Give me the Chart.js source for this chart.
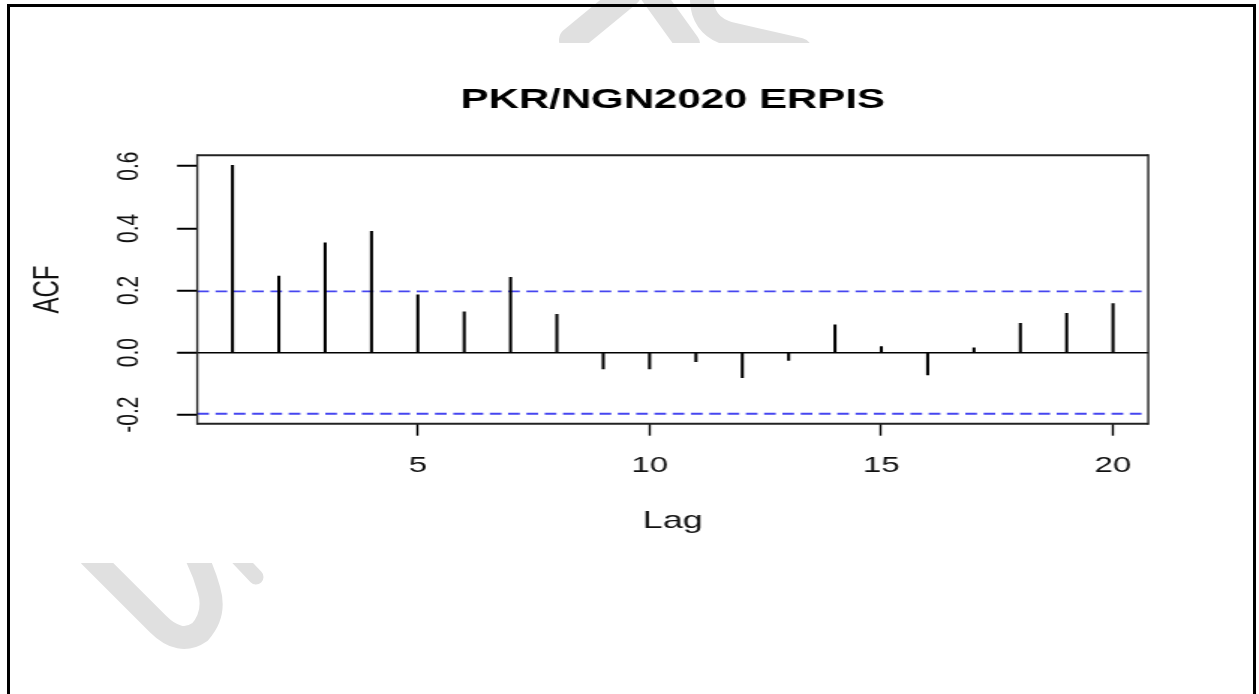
<!DOCTYPE html>
<html>
<head>
<meta charset="utf-8">
<title>PKR/NGN2020 ERPIS</title>
<script src="https://cdn.jsdelivr.net/npm/chart.js@4.4.1/dist/chart.umd.min.js"></script>
<style>
  html, body { margin: 0; padding: 0; background: #fff; overflow: hidden; }
  #page { position: relative; width: 1259px; height: 694px; }
  #frame { position: absolute; left: 7px; top: 4px; width: 1249px; height: 800px;
           border: 3px solid #000; box-sizing: border-box; }
  #mark { position: absolute; left: 0; top: 0; }
  /* the source image is stretched sideways, so the chart is drawn narrow and widened */
  #wrap { position: absolute; left: 0; top: 0; width: 840px; height: 694px;
          transform: scaleX(1.49881); transform-origin: 0 0; }
</style>
</head>
<body>
<div id="page">
  <svg id="mark" width="1259" height="694">
    <defs>
      <clipPath id="outside">
        <rect x="0" y="0" width="1259" height="43"/>
        <rect x="0" y="563" width="1259" height="131"/>
      </clipPath>
    </defs>
    <g clip-path="url(#outside)" fill="none" stroke="#e0e0e0" stroke-linecap="round">
      <path d="M 628 -6 L 572 40" stroke-width="26"/>
      <path d="M 652 -6 L 688 44" stroke-width="24"/>
      <path d="M 702 -6 Q 700 26 730 34 L 800 50" stroke-width="24"/>
      <path d="M 90 556 L 158 624 Q 180 646 200 632 Q 216 614 209 590 Q 204 572 196 556" stroke-width="23"/>
      <path d="M 236 556 L 256 577" stroke-width="15"/>
    </g>
  </svg>
  <div id="frame"></div>
  <div id="wrap"><canvas id="acfChart" width="840" height="694"></canvas></div>
</div>
<script>
const lags = [1, 2, 3, 4, 5, 6, 7, 8, 9, 10, 11, 12, 13, 14, 15, 16, 17, 18, 19, 20];
const acfValues = [0.603, 0.246, 0.353, 0.390, 0.186, 0.131, 0.242, 0.123, -0.053, -0.053,
                   -0.029, -0.081, -0.025, 0.089, 0.019, -0.072, 0.015, 0.094, 0.126, 0.158];
const ciBound = 0.197;
const xLimits = [0.24, 20.76];
const yLimits = [-0.229, 0.635];
const xTicks = [5, 10, 15, 20];
const yTicks = [-0.2, 0.0, 0.2, 0.4, 0.6];

const font = 'Liberation Sans, Arial, sans-serif';

// box round the plot region, like R's box()
const boxPlugin = {
    id: 'plotBox',
    afterDraw(chart) {
        const { ctx, chartArea: a } = chart;
        ctx.save();
        ctx.strokeStyle = '#222';
        ctx.lineWidth = 2;
        ctx.beginPath();
        ctx.moveTo(a.left, a.top); ctx.lineTo(a.right, a.top);
        ctx.moveTo(a.left, a.bottom); ctx.lineTo(a.right, a.bottom);
        ctx.stroke();
        ctx.lineWidth = 1.4;
        ctx.beginPath();
        ctx.moveTo(a.left, a.top - 1); ctx.lineTo(a.left, a.bottom + 1);
        ctx.moveTo(a.right, a.top - 1); ctx.lineTo(a.right, a.bottom + 1);
        ctx.stroke();
        ctx.restore();
    }
};

function ciLine(value) {
    return {
        type: 'line',
        data: xLimits.map(x => ({ x: x, y: value })),
        borderColor: '#4646f0',
        borderWidth: 1.8,
        borderDash: [7.8, 4.4],
        pointRadius: 0,
        fill: false
    };
}

new Chart(document.getElementById('acfChart').getContext('2d'), {
    type: 'bar',
    data: {
        datasets: [
            {
                type: 'bar',
                data: lags.map((lag, i) => ({ x: lag, y: acfValues[i] })),
                backgroundColor: '#000',
                borderWidth: 0,
                barThickness: 1.4
            },
            ciLine(ciBound),
            ciLine(-ciBound)
        ]
    },
    options: {
        responsive: false,
        devicePixelRatio: 1,
        animation: false,
        layout: { padding: { left: 0, right: 73.9, top: 0, bottom: 150 } },
        plugins: {
            legend: { display: false },
            tooltip: { enabled: false },
            title: {
                display: true,
                text: 'PKR/NGN2020 ERPIS',
                fullSize: false,
                color: '#000',
                font: { family: font, size: 28, weight: 'bold', lineHeight: 1.2 },
                padding: { top: 83.5, bottom: 38.2 }
            }
        },
        scales: {
            x: {
                type: 'linear',
                min: xLimits[0],
                max: xLimits[1],
                offset: false,
                afterBuildTicks: s => { s.ticks = xTicks.map(v => ({ value: v })); },
                afterFit: s => { s.height = 694 - 423.7 - 150; },
                border: { display: false },
                grid: {
                    offset: false,
                    drawOnChartArea: false,
                    drawTicks: true,
                    tickLength: 12,
                    tickWidth: 1.4,
                    tickColor: '#000'
                },
                ticks: {
                    autoSkip: false,
                    maxRotation: 0,
                    color: '#111',
                    padding: 17.5,
                    font: { family: font, size: 22 },
                    callback: v => String(v)
                },
                title: {
                    display: true,
                    text: 'Lag',
                    color: '#111',
                    font: { family: font, size: 24 },
                    padding: { top: 0, bottom: 8.6 }
                }
            },
            y: {
                type: 'linear',
                min: yLimits[0],
                max: yLimits[1],
                afterBuildTicks: s => { s.ticks = yTicks.map(v => ({ value: v })); },
                afterFit: s => { s.width = 131.6; },
                border: { display: false },
                grid: {
                    drawOnChartArea: true,
                    color: c => (c.tick && c.tick.value === 0 ? '#000' : 'rgba(0,0,0,0)'),
                    lineWidth: 1.5,
                    drawTicks: true,
                    tickLength: 13.5,
                    tickWidth: 2,
                    tickColor: '#000'
                },
                ticks: {
                    autoSkip: false,
                    minRotation: 90,
                    maxRotation: 90,
                    crossAlign: 'center',
                    color: '#111',
                    padding: 14,
                    font: { family: font, size: 21 },
                    callback: v => v.toFixed(1)
                },
                title: {
                    display: true,
                    text: 'ACF',
                    color: '#111',
                    font: { family: font, size: 24 },
                    padding: { top: 18.3, bottom: 0 }
                }
            }
        }
    },
    plugins: [boxPlugin]
});
</script>
</body>
</html>
